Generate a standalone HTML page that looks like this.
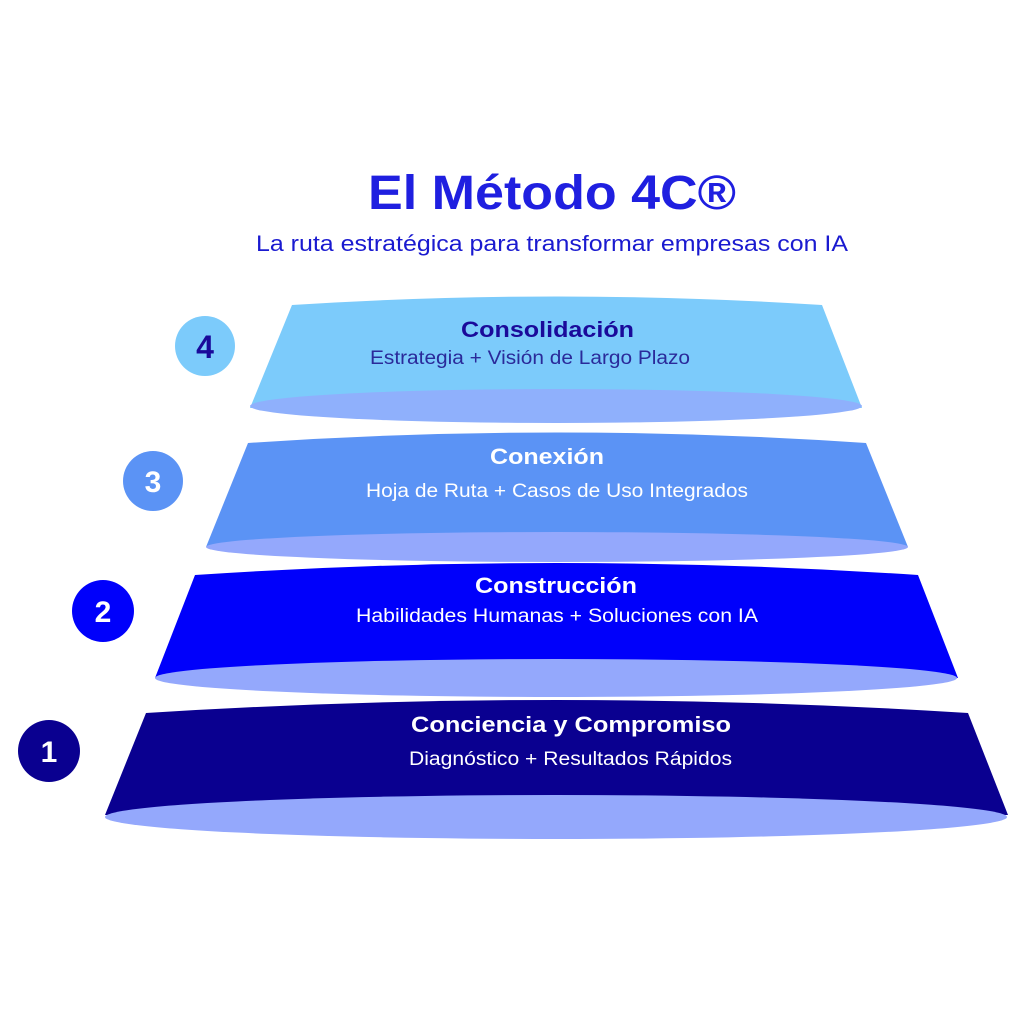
<!DOCTYPE html>
<html><head><meta charset="utf-8"><style>body{margin:0;background:#fff}svg{display:block}</style></head>
<body>
<svg width="1024" height="1024" viewBox="0 0 1024 1024" xmlns="http://www.w3.org/2000/svg" font-family="Liberation Sans, sans-serif">
<rect width="1024" height="1024" fill="#fff"/>
<text x="368" y="209" textLength="368" lengthAdjust="spacingAndGlyphs" font-size="48" font-weight="bold" fill="#1f1fe0">El Método 4C®</text>
<text x="256" y="251" textLength="592" lengthAdjust="spacingAndGlyphs" font-size="22" fill="#1a1ad0">La ruta estratégica para transformar empresas con IA</text>

<path d="M292,305 Q557,288 822,305 L862,408 L250,408 Z" fill="#7ccbfb"/>
<ellipse cx="556" cy="406" rx="306" ry="17" fill="#8fb0fc"/>
<path d="M248,443 Q557,422 866,443 L908,547 L206,547 Z" fill="#5b93f5"/>
<ellipse cx="557" cy="547" rx="351" ry="15" fill="#94a8fc"/>
<path d="M195,575 Q556,551 918,575 L958,678 L155,678 Z" fill="#0000fb"/>
<ellipse cx="556" cy="678" rx="401" ry="19" fill="#94a8fc"/>
<path d="M146,713 Q557,687 968,713 L1008,815 L105,815 Z" fill="#0a0090"/>
<ellipse cx="556" cy="817" rx="451" ry="22" fill="#94a8fc"/>

<text x="461" y="337" textLength="173" lengthAdjust="spacingAndGlyphs" font-size="22" font-weight="bold" fill="#1a0a9a">Consolidación</text>
<text x="370" y="364" textLength="320" lengthAdjust="spacingAndGlyphs" font-size="19" fill="#2a2a9a">Estrategia + Visión de Largo Plazo</text>
<text x="490" y="464" textLength="114" lengthAdjust="spacingAndGlyphs" font-size="22" font-weight="bold" fill="#fff">Conexión</text>
<text x="366" y="497" textLength="382" lengthAdjust="spacingAndGlyphs" font-size="19" fill="#fff">Hoja de Ruta + Casos de Uso Integrados</text>
<text x="475" y="593" textLength="162" lengthAdjust="spacingAndGlyphs" font-size="22" font-weight="bold" fill="#fff">Construcción</text>
<text x="356" y="622" textLength="402" lengthAdjust="spacingAndGlyphs" font-size="19" fill="#fff">Habilidades Humanas + Soluciones con IA</text>
<text x="411" y="732" textLength="320" lengthAdjust="spacingAndGlyphs" font-size="22" font-weight="bold" fill="#fff">Conciencia y Compromiso</text>
<text x="409" y="765" textLength="323" lengthAdjust="spacingAndGlyphs" font-size="19" fill="#fff">Diagnóstico + Resultados Rápidos</text>

<circle cx="205" cy="346" r="30" fill="#7ccbfb"/>
<text x="205" y="358" text-anchor="middle" font-size="32" font-weight="bold" fill="#1a0a9a">4</text>
<circle cx="153" cy="481" r="30" fill="#5b93f5"/>
<text x="153" y="492" text-anchor="middle" font-size="30" font-weight="bold" fill="#fff">3</text>
<circle cx="103" cy="611" r="31" fill="#0000fb"/>
<text x="103" y="622" text-anchor="middle" font-size="30" font-weight="bold" fill="#fff">2</text>
<circle cx="49" cy="751" r="31" fill="#0a0090"/>
<text x="49" y="762" text-anchor="middle" font-size="30" font-weight="bold" fill="#fff">1</text>
</svg>
</body></html>
